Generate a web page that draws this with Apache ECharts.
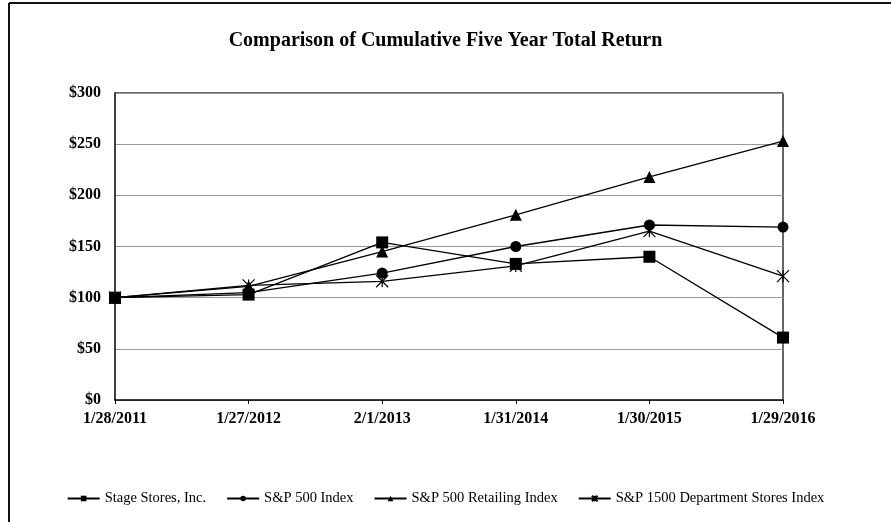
<!DOCTYPE html>
<html>
<head>
<meta charset="utf-8">
<script src="https://cdn.jsdelivr.net/npm/echarts@6/dist/echarts.min.js"></script>
<style>
  html, body { margin: 0; padding: 0; background: #fff; }
  #chart { width: 891px; height: 522px; }
</style>
</head>
<body>
<div id="chart"></div>
<script>
// period end dates along the x axis
const dates = ['1/28/2011', '1/27/2012', '2/1/2013', '1/31/2014', '1/30/2015', '1/29/2016'];

// cumulative value of $100 invested
const stageStores = [100, 103, 154, 133, 140, 61];
const sp500 = [100, 105, 124, 150, 171, 169];
const sp500Retailing = [100, 111, 145, 181, 218, 253];
const sp1500Dept = [100, 112, 116, 131, 165, 121];

const yTicks = [0, 50, 100, 150, 200, 250, 300];

const serif = '"Liberation Serif", "DejaVu Serif", serif';
const asterisk = 'path://M0,0L10,10M10,0L0,10M5,0L5,10';

function makeSeries(name, data, symbol, size, hollow) {
    return {
        name: name,
        type: 'line',
        data: data,
        symbol: symbol,
        symbolSize: size,
        showAllSymbol: true,
        lineStyle: { color: '#000', width: 1.3 },
        itemStyle: hollow
            ? { color: 'rgba(0,0,0,0)', borderColor: '#000', borderWidth: 1.2 }
            : { color: '#000', borderWidth: 0 },
        emphasis: { disabled: true },
        z: 3
    };
}

const chart = echarts.init(document.getElementById('chart'));
chart.setOption({
    backgroundColor: '#fff',
    animation: false,
    title: {
        text: 'Comparison of Cumulative Five Year Total Return',
        left: 'center',
        top: 26,
        textStyle: { fontFamily: serif, fontSize: 20, fontWeight: 'bold', color: '#000' }
    },
    legend: {
        bottom: 11,
        left: 'center',
        itemGap: 20,
        itemWidth: 32,
        itemHeight: 7,
        textStyle: { fontFamily: serif, fontSize: 14.5, color: '#000' },
        data: ['Stage Stores, Inc.', 'S&P 500 Index', 'S&P 500 Retailing Index', 'S&P 1500 Department Stores Index']
    },
    grid: { left: 115, right: 108, top: 93, bottom: 122 },
    xAxis: {
        type: 'category',
        data: dates,
        boundaryGap: false,
        axisLine: { lineStyle: { color: '#000', width: 1.5 } },
        axisTick: { show: true, length: 4, lineStyle: { color: '#000' } },
        axisLabel: { fontFamily: serif, fontSize: 16, fontWeight: 'bold', color: '#000', margin: 11 }
    },
    yAxis: {
        type: 'value',
        min: yTicks[0],
        max: yTicks[yTicks.length - 1],
        interval: 50,
        axisLine: { show: true, lineStyle: { color: '#000', width: 1.5 } },
        axisTick: { show: false },
        axisLabel: {
            fontFamily: serif, fontSize: 16, fontWeight: 'bold', color: '#000', margin: 14,
            formatter: v => '$' + v
        },
        splitLine: { lineStyle: { color: '#999', width: 1 } }
    },
    graphic: [
        // outer frame (top and left edge) and the plot box
        { type: 'line', shape: { x1: 9, y1: 3, x2: 891, y2: 3 }, style: { stroke: '#111', lineWidth: 2 } },
        { type: 'line', shape: { x1: 9, y1: 3, x2: 9, y2: 522 }, style: { stroke: '#111', lineWidth: 2 } },
        { type: 'line', shape: { x1: 115, y1: 93, x2: 783, y2: 93 }, style: { stroke: '#333', lineWidth: 1.5 } },
        { type: 'line', shape: { x1: 783, y1: 93, x2: 783, y2: 400 }, style: { stroke: '#333', lineWidth: 1.5 } }
    ],
    series: [
        makeSeries('Stage Stores, Inc.', stageStores, 'rect', 12, false),
        makeSeries('S&P 500 Index', sp500, 'circle', 11, false),
        makeSeries('S&P 500 Retailing Index', sp500Retailing, 'triangle', 12, false),
        makeSeries('S&P 1500 Department Stores Index', sp1500Dept, asterisk, 12, true)
    ]
});
</script>
</body>
</html>
